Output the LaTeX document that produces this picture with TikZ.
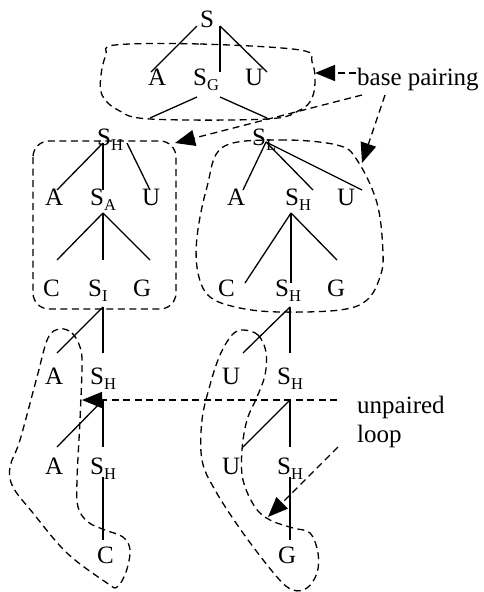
\documentclass[tikz,border=0pt]{standalone}
\usepackage{fontspec}
\setmainfont{Liberation Serif}
\usetikzlibrary{arrows.meta}
\newcommand\Ssub[1]{S\raisebox{-0.22em}{\fontsize{16.5pt}{16.5pt}\selectfont #1}}
\tikzset{
  lbl/.style={inner sep=0pt, anchor=base west, font=\fontsize{25pt}{29pt}\selectfont},
  tree/.style={line width=1.3pt},
  blob/.style={line width=1.3pt, dash pattern=on 7pt off 4.5pt},
  callout/.style={line width=1.3pt, dash pattern=on 7pt off 4.5pt, -{Triangle[length=20pt,width=16pt]}},
}
\begin{document}
\begin{tikzpicture}[x=1pt,y=-1pt]
\useasboundingbox (0,0) rectangle (483,592);
% labels
\node[lbl] (s0) at (200,27) {S};
\node[lbl] (a1) at (148,85) {A};
\node[lbl] (sg) at (193,85) {\Ssub{G}};
\node[lbl] (u1) at (245,85) {U};
\node[lbl] (shl) at (97,145) {\Ssub{H}};
\node[lbl] (slr) at (252,145) {\Ssub{L}};
\node[lbl] (a3l) at (45,205) {A};
\node[lbl] (sa) at (90,205) {\Ssub{A}};
\node[lbl] (u3l) at (142,205) {U};
\node[lbl] (a3r) at (227,205) {A};
\node[lbl] (sh3r) at (285,205) {\Ssub{H}};
\node[lbl] (u3r) at (337,205) {U};
\node[lbl] (c4l) at (43,296) {C};
\node[lbl] (si) at (88,296) {\Ssub{I}};
\node[lbl] (g4l) at (133,296) {G};
\node[lbl] (c4r) at (218,296) {C};
\node[lbl] (sh4r) at (275,296) {\Ssub{H}};
\node[lbl] (g4r) at (327,296) {G};
\node[lbl] (a5l) at (45,384) {A};
\node[lbl] (sh5l) at (90,384) {\Ssub{H}};
\node[lbl] (u5r) at (222,384) {U};
\node[lbl] (sh5r) at (277,384) {\Ssub{H}};
\node[lbl] (a6l) at (45,474) {A};
\node[lbl] (sh6l) at (90,474) {\Ssub{H}};
\node[lbl] (u6r) at (222,474) {U};
\node[lbl] (sh6r) at (277,474) {\Ssub{H}};
\node[lbl] (c7) at (97,563) {C};
\node[lbl] (g7) at (278,563) {G};
\node[lbl] (bp) at (357,85) {base pairing};
\node[lbl] (up1) at (357,413) {unpaired};
\node[lbl] (up2) at (357,442) {loop};
% tree coordinates
\coordinate (s0l) at (197,26); \coordinate (s0r) at (220,26);
\coordinate (a1t) at (151,72); \coordinate (sgt) at (220,72); \coordinate (u1t) at (267,72);
\coordinate (sgl) at (197,97); \coordinate (sgr) at (220,97);
\coordinate (shlt) at (150,118); \coordinate (slrt) at (267,118);
\coordinate (shlb) at (103,143); \coordinate (shlb2) at (127,143);
\coordinate (a3lt) at (57,190); \coordinate (sat) at (103,190); \coordinate (u3lt) at (150,190);
\coordinate (slrb) at (266,142);
\coordinate (a3rt) at (243,190); \coordinate (sh3rt) at (313,190); \coordinate (u3rt) at (362,190);
\coordinate (sab) at (103,213);
\coordinate (c4lt) at (57,260); \coordinate (sit) at (103,260); \coordinate (g4lt) at (150,260);
\coordinate (sh3rb) at (291,213);
\coordinate (c4rt) at (245,283); \coordinate (sh4rt) at (291,283); \coordinate (g4rt) at (337,260);
\coordinate (sib) at (103,307);
\coordinate (a5lt) at (57,353); \coordinate (sh5lt) at (103,353);
\coordinate (sh4rb) at (290,307);
\coordinate (u5rt) at (243,353); \coordinate (sh5rt) at (290,353);
\coordinate (sh5lb) at (103,400);
\coordinate (a6lt) at (57,447); \coordinate (sh6lt) at (103,447);
\coordinate (sh5rb) at (290,400);
\coordinate (u6rt) at (243,447); \coordinate (sh6rt) at (290,447);
\coordinate (sh6lb) at (103,477); \coordinate (c7t) at (103,540);
\coordinate (sh6rb) at (290,477); \coordinate (g7t) at (290,540);
% tree lines
\draw[tree] (s0l) -- (a1t);
\draw[tree] (s0r) -- (sgt);
\draw[tree] (s0r) -- (u1t);
\draw[tree] (sgl) -- (shlt);
\draw[tree] (sgr) -- (slrt);
\draw[tree] (shlb) -- (a3lt);
\draw[tree] (shlb) -- (sat);
\draw[tree] (shlb2) -- (u3lt);
\draw[tree] (slrb) -- (a3rt);
\draw[tree] (slrb) -- (sh3rt);
\draw[tree] (slrb) -- (u3rt);
\draw[tree] (sab) -- (c4lt);
\draw[tree] (sab) -- (sit);
\draw[tree] (sab) -- (g4lt);
\draw[tree] (sh3rb) -- (c4rt);
\draw[tree] (sh3rb) -- (sh4rt);
\draw[tree] (sh3rb) -- (g4rt);
\draw[tree] (sib) -- (a5lt);
\draw[tree] (sib) -- (sh5lt);
\draw[tree] (sh4rb) -- (u5rt);
\draw[tree] (sh4rb) -- (sh5rt);
\draw[tree] (sh5lb) -- (a6lt);
\draw[tree] (sh5lb) -- (sh6lt);
\draw[tree] (sh5rb) -- (u6rt);
\draw[tree] (sh5rb) -- (sh6rt);
\draw[tree] (sh6lb) -- (c7t);
\draw[tree] (sh6rb) -- (g7t);
% blobs
\draw[blob] plot[smooth cycle, tension=0.6] coordinates {(115,45) (200,44) (300,50) (312,62) (315,80) (312,98) (300,110) (267,119) (150,119) (118,110) (102,95) (101,75) (106,55)};
\draw[blob, rounded corners=16] (33,141) rectangle (176,309);
\draw[blob] plot[smooth cycle, tension=0.6] coordinates {(223,147) (280,140) (337,145) (357,160) (377,203) (383,253) (380,277) (367,300) (340,310) (280,312) (240,308) (210,297) (198,273) (197,237) (207,187)};
\draw[blob] plot[smooth cycle, tension=0.6] coordinates {(60,329) (72,333) (80,347) (82,365) (80,420) (77,480) (78,507) (88,522) (105,530) (123,537) (130,550) (126,572) (117,587) (107,583) (67,553) (33,513) (13,487) (10,467) (20,440) (37,377) (48,338)};
\draw[blob] plot[smooth cycle, tension=0.6] coordinates {(243,330) (258,335) (266,352) (265,375) (257,397) (247,420) (242,450) (243,480) (255,507) (270,520) (293,528) (310,533) (318,553) (317,573) (307,588) (293,590) (277,577) (243,533) (215,490) (202,460) (202,420) (210,385) (220,355) (232,335)};
% callouts
\coordinate (bp1) at (356,73); \coordinate (bpt1) at (315,73);
\coordinate (bp2) at (362,95); \coordinate (bpt2) at (175,143);
\coordinate (bp3) at (385,95); \coordinate (bpt3) at (362,163);
\coordinate (ul1) at (337,400); \coordinate (ult1) at (82,400);
\coordinate (ul2) at (338,447); \coordinate (ult2) at (268,517);
\draw[callout] (bp1) -- (bpt1);
\draw[callout] (bp2) -- (bpt2);
\draw[callout] (bp3) -- (bpt3);
\draw[callout] (ul1) -- (ult1);
\draw[callout] (ul2) -- (ult2);
\end{tikzpicture}
\end{document}
